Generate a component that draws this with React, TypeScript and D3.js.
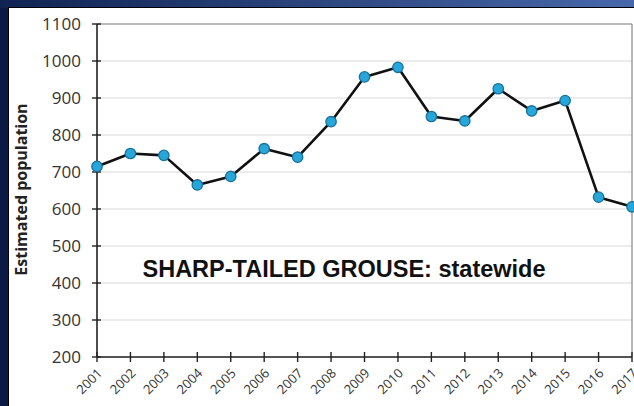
import React from 'react';
import * as d3 from 'd3';

const width = 634;
const height = 406;
const margin = { top: 24, right: 2, bottom: 49, left: 97 };

const years = ['2001', '2002', '2003', '2004', '2005', '2006', '2007', '2008', '2009',
    '2010', '2011', '2012', '2013', '2014', '2015', '2016', '2017'];
const population = [715, 750, 745, 665, 688, 763, 740, 836, 957, 983, 850, 838, 925, 865, 893, 632, 606];
const yTicks = [200, 300, 400, 500, 600, 700, 800, 900, 1000, 1100];

const xScale = d3.scalePoint<string>().domain(years).range([margin.left, width - margin.right]);
const yScale = d3.scaleLinear().domain([200, 1100]).range([height - margin.bottom, margin.top]);

const line = d3.line<number>()
    .x((d, i) => xScale(years[i]) as number)
    .y(d => yScale(d));

export default function App() {
    const x0 = margin.left;
    const x1 = width - margin.right;
    const yBottom = yScale(200);
    const yTop = yScale(1100);

    return (
        <svg width={width} height={height} style={{ position: 'absolute', left: 0, top: 0 }}
            fontFamily="'Open Sans', sans-serif">
            <defs>
                <linearGradient id="topband" x1="0" x2="1" y1="0" y2="0">
                    <stop offset="0" stopColor="#102352" />
                    <stop offset="1" stopColor="#4868ab" />
                </linearGradient>
            </defs>
            <rect x={0} y={0} width={width} height={height} fill="#0a1a45" />
            <rect x={0} y={0} width={width} height={8} fill="url(#topband)" />
            <rect x={8} y={7} width={width - 8} height={height - 7} fill="#000" />
            <rect x={9} y={8} width={width - 9} height={height - 8} fill="#fff" />

            {/* grid */}
            {yTicks.map(t => (
                <line key={t} x1={x0} x2={x1} y1={yScale(t)} y2={yScale(t)} stroke="#d9d9d9" strokeWidth={1} />
            ))}
            <line x1={x0} x2={x1} y1={yTop} y2={yTop} stroke="#888" strokeWidth={1.2} />
            <line x1={x1} x2={x1} y1={yTop} y2={yBottom} stroke="#888" strokeWidth={1.2} />

            {/* y axis */}
            <line x1={x0} x2={x0} y1={yTop} y2={yBottom} stroke="#222" strokeWidth={1.6} />
            {yTicks.map(t => (
                <g key={t}>
                    <line x1={x0 - 5} x2={x0 + 4} y1={yScale(t)} y2={yScale(t)} stroke="#222" strokeWidth={1.4} />
                    <text x={x0 - 16} y={yScale(t)} dy="0.36em" textAnchor="end" fontSize={17} fill="#333">{t}</text>
                </g>
            ))}
            <text transform={`translate(27, ${(yTop + yBottom) / 2 - 1}) rotate(-90)`} textAnchor="middle"
                fontSize={16} fontWeight="bold" fill="#222">Estimated population</text>

            {/* x axis */}
            <line x1={x0} x2={x1} y1={yBottom} y2={yBottom} stroke="#222" strokeWidth={1.6} />
            {years.map(y => (
                <g key={y}>
                    <line x1={xScale(y)} x2={xScale(y)} y1={yBottom - 5} y2={yBottom + 5} stroke="#222" strokeWidth={1.4} />
                    <text transform={`translate(${(xScale(y) as number) + 6}, ${yBottom + 17}) rotate(-45)`}
                        textAnchor="end" fontSize={13} fill="#333">{y}</text>
                </g>
            ))}

            {/* series */}
            <path d={line(population) || ''} fill="none" stroke="#111" strokeWidth={2.6} strokeLinejoin="round" />
            {population.map((v, i) => (
                <circle key={i} cx={xScale(years[i])} cy={yScale(v)} r={5.2} fill="#27a6d9" stroke="#17729c" strokeWidth={1.3} />
            ))}

            <text x={344} y={277} textAnchor="middle" fontFamily="'Liberation Sans', Arial, sans-serif"
                fontSize={23.5} fontWeight="bold" fill="#111">SHARP-TAILED GROUSE: statewide</text>
        </svg>
    );
}
